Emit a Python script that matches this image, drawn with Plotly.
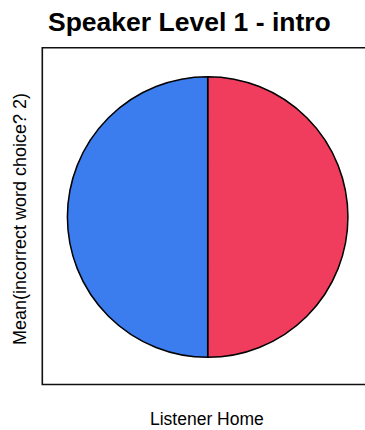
import plotly.graph_objects as go

W, H = 365, 430
OFF = 0  # body margin removed via post_script below

title_text = "Speaker Level 1 - intro"
x_label = "Listener Home"
y_label = "Mean(incorrect word choice? 2)"

slice_labels = ["Home", "Away"]
slice_values = [1, 1]
slice_colors = ["#F03D5E", "#3B7CEE"]


def px_x(x):
    return (x - OFF) / W


def px_y(y):
    return 1 - (y - OFF) / H


cx, cy, r = 207.7, 217.0, 140.3

fig = go.Figure(
    go.Pie(
        labels=slice_labels,
        values=slice_values,
        sort=False,
        direction="clockwise",
        rotation=0,
        textinfo="none",
        marker=dict(colors=slice_colors, line=dict(color="#000000", width=1.5)),
        domain=dict(x=[px_x(cx - r), px_x(cx + r)], y=[px_y(cy + r), px_y(cy - r)]),
        showlegend=False,
    )
)

fig.update_layout(
    width=W,
    height=H,
    margin=dict(l=0, r=0, t=0, b=0),
    paper_bgcolor="white",
    plot_bgcolor="white",
    font=dict(family="Liberation Sans, Arial, sans-serif", color="#000000"),
    shapes=[
        dict(
            type="rect", xref="paper", yref="paper",
            x0=px_x(42.3), x1=px_x(372), y0=px_y(384.5), y1=px_y(47.8),
            line=dict(color="#111111", width=1.6), fillcolor="rgba(0,0,0,0)",
            layer="below",
        )
    ],
    annotations=[
        dict(text="<b>" + title_text + "</b>", xref="paper", yref="paper",
             x=px_x(189), y=px_y(22), xanchor="center", yanchor="middle",
             showarrow=False, font=dict(size=26.5)),
        dict(text=x_label, xref="paper", yref="paper",
             x=px_x(207), y=px_y(419), xanchor="center", yanchor="middle",
             showarrow=False, font=dict(size=17.5)),
        dict(text=y_label, xref="paper", yref="paper",
             x=px_x(20), y=px_y(219), xanchor="center", yanchor="middle",
             textangle=-90, showarrow=False, font=dict(size=18)),
    ],
)

fig.write_html(
    "out.html",
    config={"displayModeBar": False},
    post_script="document.body.style.margin='0';document.body.style.overflow='hidden';",
)
